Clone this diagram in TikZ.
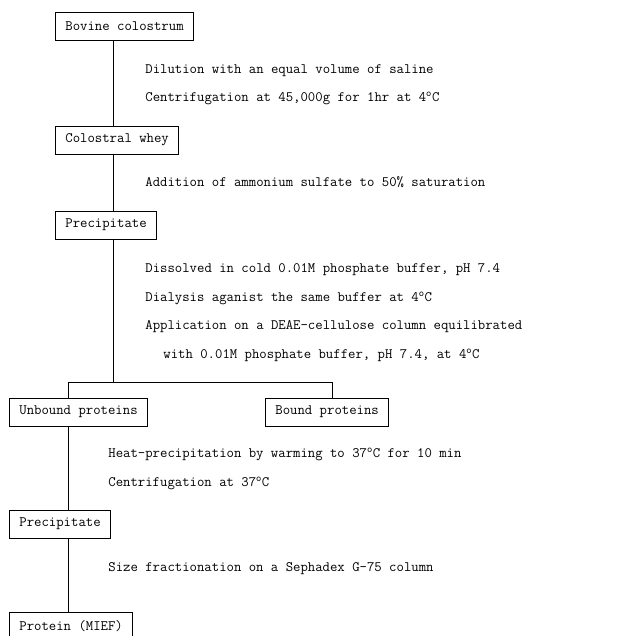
\documentclass[tikz,border=0pt]{standalone}
\usepackage{tikz}
\usepackage{xcolor}

\tikzset{
  stage/.style={draw, rectangle, anchor=west, minimum height=28pt, inner xsep=10pt,
    font=\ttfamily\fontsize{14.35}{16}\selectfont, line width=0.8pt},
  note/.style={anchor=west, inner sep=0pt, text height=10pt, text depth=3.5pt,
    font=\ttfamily\fontsize{14.35}{16}\selectfont}
}
\newcommand{\degc}{\textsuperscript{o}C}

\begin{document}
\begin{tikzpicture}[x=1pt, y=-1pt, line width=0.8pt]
    \useasboundingbox (0,0) rectangle (637,636);

    % boxes
    \node[stage] (colostrum) at (55,26) {Bovine colostrum};
    \node[stage] (whey) at (55,140) {Colostral whey};
    \node[stage] (prec) at (55,225) {Precipitate};
    \node[stage] (unbound) at (9,412) {Unbound proteins};
    \node[stage] (bound) at (265,412) {Bound proteins};
    \node[stage] (prec2) at (9,524) {Precipitate};
    \node[stage] (mief) at (9,626) {Protein (MIEF)};

    % steps
    \node[note] (dil) at (145,70) {Dilution with an equal volume of saline};
    \node[note] (cen) at (145,98) {Centrifugation at 45,000g for 1hr at 4\degc};
    \node[note] (amm) at (145,183) {Addition of ammonium sulfate to 50\% saturation};
    \node[note] (dis) at (145,269) {Dissolved in cold 0.01M phosphate buffer, pH 7.4};
    \node[note] (dia) at (145,298) {Dialysis aganist the same buffer at 4\degc};
    \node[note] (app) at (145,326) {Application on a DEAE-cellulose column equilibrated};
    \node[note] (app2) at (163,355) {with 0.01M phosphate buffer, pH 7.4, at 4\degc};
    \node[note] (heat) at (108,454) {Heat-precipitation by warming to 37\degc{} for 10 min};
    \node[note] (cen2) at (108,483) {Centrifugation at 37\degc};
    \node[note] (size) at (108,568) {Size fractionation on a Sephadex G-75 column};

    % connectors
    \coordinate (trunk) at (113,0);
    \coordinate (fork) at (113,382);
    \coordinate (left) at (68,382);
    \coordinate (right) at (332,382);
    \coordinate (stem) at (68,0);

    \draw (colostrum.south -| trunk) -- (whey.north -| trunk);
    \draw (whey.south -| trunk) -- (prec.north -| trunk);
    \draw (prec.south -| trunk) -- (fork);
    \draw (unbound.north -| left) -- (left) -- (right) -- (bound.north -| right);
    \draw (unbound.south -| stem) -- (prec2.north -| stem);
    \draw (prec2.south -| stem) -- (mief.north -| stem);
\end{tikzpicture}
\end{document}
